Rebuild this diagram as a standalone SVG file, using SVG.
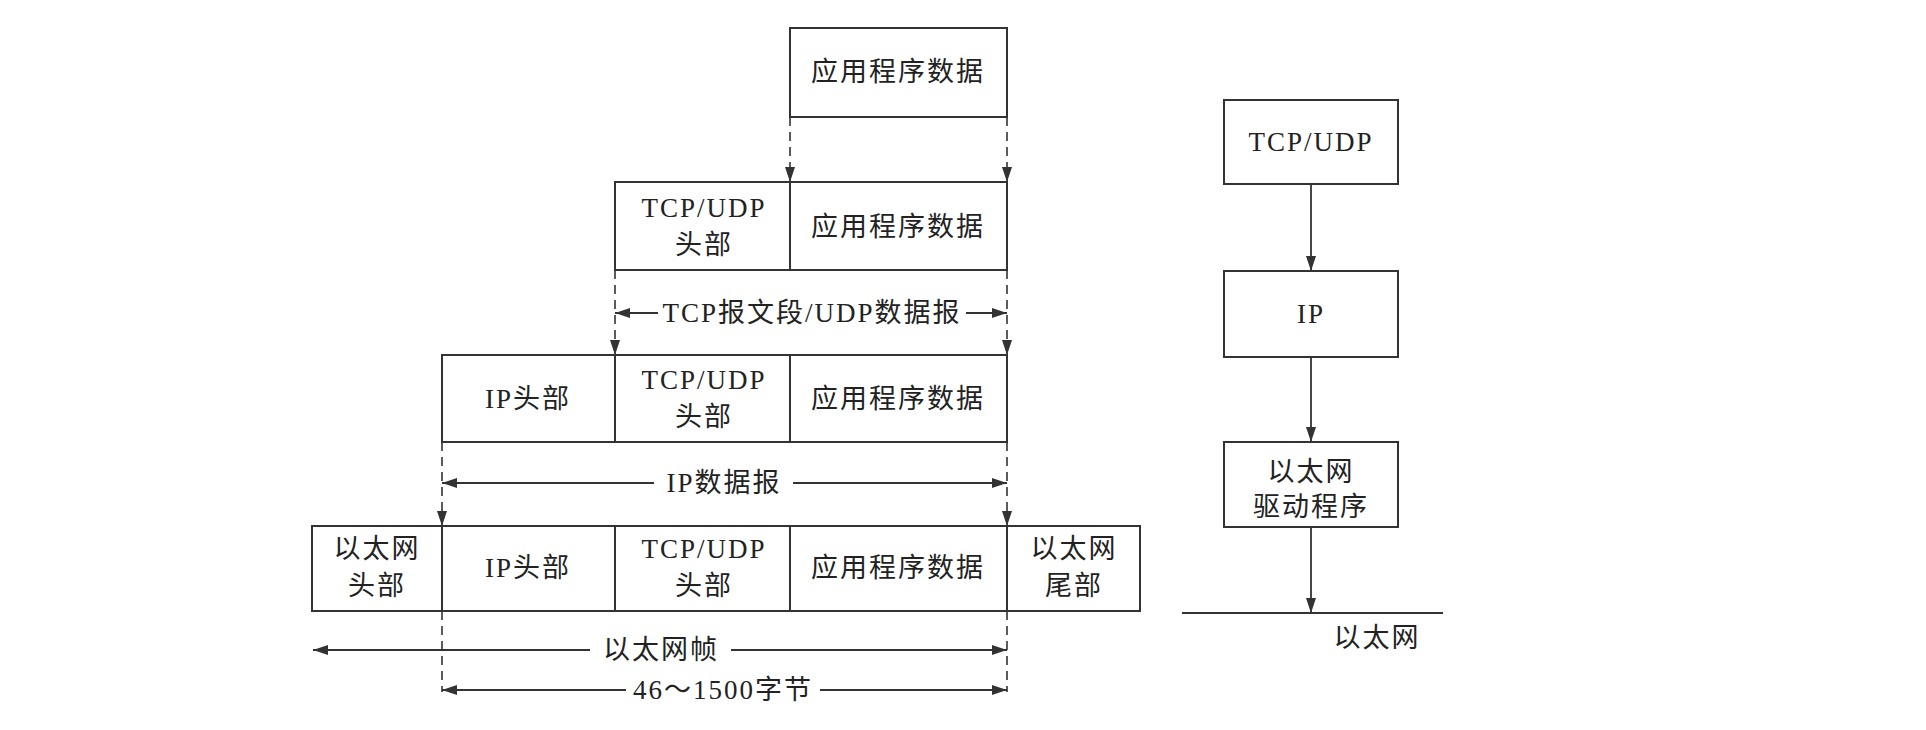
<svg xmlns="http://www.w3.org/2000/svg" width="1926" height="730" viewBox="0 0 1926 730">
<style>
.box{fill:none;stroke:#333;stroke-width:2}
.ln{fill:none;stroke:#333;stroke-width:1.8}
.dash{fill:none;stroke:#333;stroke-width:1.6;stroke-dasharray:9 6}
text{font-family:"Liberation Serif","Noto Sans CJK SC",serif;font-size:27px;fill:#222;text-anchor:middle;dominant-baseline:central;letter-spacing:2px}
</style>
<defs>
<marker id="ah" markerUnits="userSpaceOnUse" markerWidth="16" markerHeight="10" refX="15" refY="5" orient="auto-start-reverse">
<path d="M0,0 L15,5 L0,10 z" fill="#333" stroke="none"/>
</marker>
</defs>
<rect width="1926" height="730" fill="#fff"/>

<g id="row1">
<rect class="box" x="790" y="28" width="217" height="89"/>
<text x="898" y="72">应用程序数据</text>
</g>

<g id="row2">
<rect class="box" x="615" y="182" width="392" height="88"/>
<line class="box" x1="790" y1="182" x2="790" y2="270"/>
<text x="704" y="208">TCP/UDP</text>
<text x="704" y="245">头部</text>
<text x="898" y="227">应用程序数据</text>
</g>

<g id="row3">
<rect class="box" x="442" y="355" width="565" height="87"/>
<line class="box" x1="615" y1="355" x2="615" y2="442"/>
<line class="box" x1="790" y1="355" x2="790" y2="442"/>
<text x="528" y="399">IP头部</text>
<text x="704" y="380">TCP/UDP</text>
<text x="704" y="417">头部</text>
<text x="898" y="399">应用程序数据</text>
</g>

<g id="row4">
<rect class="box" x="312" y="526" width="828" height="85"/>
<line class="box" x1="442" y1="526" x2="442" y2="611"/>
<line class="box" x1="615" y1="526" x2="615" y2="611"/>
<line class="box" x1="790" y1="526" x2="790" y2="611"/>
<line class="box" x1="1007" y1="526" x2="1007" y2="611"/>
<text x="377" y="549">以太网</text>
<text x="377" y="586">头部</text>
<text x="528" y="568">IP头部</text>
<text x="704" y="549">TCP/UDP</text>
<text x="704" y="586">头部</text>
<text x="898" y="568">应用程序数据</text>
<text x="1074" y="549">以太网</text>
<text x="1074" y="586">尾部</text>
</g>

<g id="stack-tcp">
<rect class="box" x="1224" y="100" width="174" height="84"/>
<text x="1311" y="142">TCP/UDP</text>
</g>
<g id="stack-ip">
<rect class="box" x="1224" y="271" width="174" height="86"/>
<text x="1311" y="314">IP</text>
</g>
<g id="stack-eth">
<rect class="box" x="1224" y="442" width="174" height="85"/>
<text x="1311" y="472">以太网</text>
<text x="1311" y="507">驱动程序</text>
</g>
<g id="ethernet-bus">
<line class="ln" x1="1182" y1="613" x2="1443" y2="613"/>
<text x="1377" y="638">以太网</text>
</g>

<g id="connectors">
<line class="dash" x1="790" y1="117" x2="790" y2="182" marker-end="url(#ah)"/>
<line class="dash" x1="1007" y1="117" x2="1007" y2="182" marker-end="url(#ah)"/>
<line class="dash" x1="615" y1="270" x2="615" y2="355" marker-end="url(#ah)"/>
<line class="dash" x1="1007" y1="270" x2="1007" y2="355" marker-end="url(#ah)"/>
<line class="dash" x1="442" y1="442" x2="442" y2="526" marker-end="url(#ah)"/>
<line class="dash" x1="1007" y1="442" x2="1007" y2="526" marker-end="url(#ah)"/>
<line class="dash" x1="442" y1="611" x2="442" y2="692"/>
<line class="dash" x1="1007" y1="611" x2="1007" y2="692"/>

<line class="ln" x1="615" y1="313" x2="658" y2="313" marker-start="url(#ah)"/>
<line class="ln" x1="966" y1="313" x2="1007" y2="313" marker-end="url(#ah)"/>
<text x="812" y="313">TCP报文段/UDP数据报</text>

<line class="ln" x1="442" y1="483" x2="654" y2="483" marker-start="url(#ah)"/>
<line class="ln" x1="793" y1="483" x2="1007" y2="483" marker-end="url(#ah)"/>
<text x="724" y="483">IP数据报</text>

<line class="ln" x1="313" y1="650" x2="590" y2="650" marker-start="url(#ah)"/>
<line class="ln" x1="731" y1="650" x2="1007" y2="650" marker-end="url(#ah)"/>
<text x="661" y="650">以太网帧</text>

<line class="ln" x1="442" y1="690" x2="626" y2="690" marker-start="url(#ah)"/>
<line class="ln" x1="820" y1="690" x2="1007" y2="690" marker-end="url(#ah)"/>
<text x="723" y="690">46～1500字节</text>

<line class="ln" x1="1311" y1="184" x2="1311" y2="271" marker-end="url(#ah)"/>
<line class="ln" x1="1311" y1="357" x2="1311" y2="442" marker-end="url(#ah)"/>
<line class="ln" x1="1311" y1="527" x2="1311" y2="613" marker-end="url(#ah)"/>
</g>
</svg>
